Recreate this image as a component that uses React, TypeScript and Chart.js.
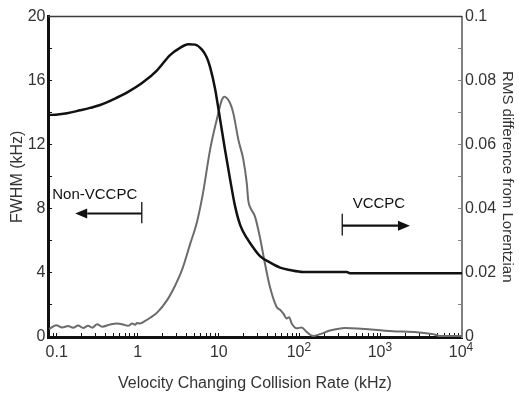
import React, { useEffect, useRef } from 'react';
import { Chart, registerables } from 'chart.js';

Chart.register(...registerables);

// ---- Data ----
// FWHM (left axis, kHz) vs velocity changing collision rate (kHz)
const FWHM_X = [0.0805, 0.097, 0.134, 0.194, 0.258, 0.343, 0.556, 0.759, 1.16, 1.73, 2.5, 3.32, 4.17, 5.09, 6.15, 7.1, 7.8, 8.98, 10.35, 11.9, 13.7, 15.8, 18.3, 22.3, 26.4, 32.2, 42.8, 56.9, 75.5, 109, 378, 415, 10000];
const FWHM_Y = [13.86, 13.88, 13.97, 14.15, 14.3, 14.48, 14.95, 15.3, 15.9, 16.65, 17.6, 18.05, 18.28, 18.25, 17.95, 17.45, 16.85, 15.5, 13.6, 11.7, 9.9, 8.2, 7.0, 6.15, 5.6, 5.05, 4.65, 4.33, 4.18, 4.06, 4.06, 3.98, 3.98];

// RMS difference from Lorentzian (right axis)
const RMS_X = [0.0805, 0.083, 0.0984, 0.117, 0.138, 0.159, 0.184, 0.212, 0.244, 0.274, 0.315, 0.363, 0.456, 0.556, 0.659, 0.759, 0.851, 0.927, 0.98, 1.07, 1.23, 1.42, 1.73, 2.3, 2.88, 3.52, 4.42, 5.38, 6.38, 7.8, 9.42, 10.9, 11.7, 13.7, 15.1, 17.4, 20.0, 22.1, 23.1, 24.9, 28.0, 32.2, 37.2, 42.8, 51.8, 56.9, 62.5, 68.7, 73.4, 79.3, 91.3, 105, 121, 146, 177, 235, 360, 1406, 2780, 4375, 5350, 10000];
const RMS_Y = [0.0025, 0.0027, 0.0037, 0.003, 0.0034, 0.0029, 0.0036, 0.0028, 0.0035, 0.0029, 0.004, 0.0032, 0.0039, 0.0042, 0.0039, 0.0035, 0.0042, 0.0038, 0.0044, 0.0042, 0.005, 0.006, 0.0076, 0.0115, 0.016, 0.021, 0.029, 0.036, 0.045, 0.0585, 0.0678, 0.074, 0.075, 0.0731, 0.0698, 0.0616, 0.0555, 0.048, 0.0425, 0.04, 0.0375, 0.031, 0.0227, 0.0155, 0.0093, 0.0085, 0.0073, 0.0058, 0.0062, 0.0042, 0.0027, 0.003, 0.0016, 0.0003, 0.0009, 0.002, 0.0028, 0.0018, 0.0015, 0.0009, 0.0003, 0.0003];

// Axis ranges and tick labels
const X_MIN = 0.078;
const X_MAX = 10000;
const X_DECADES = [0.01, 0.1, 1, 10, 100, 1000];
const X_MULTIPLIERS = [1, 2, 3, 4, 5, 6, 7, 8, 9];
const X_LABEL_VALUES = [0.1, 1, 10, 100, 1000, 10000];
const X_LABEL_BASE = ['0.1', '1', '10', '10', '10', '10'];
const X_LABEL_EXP = ['', '', '', '2', '3', '4'];
const Y_LEFT_MAX = 20;
const Y_RIGHT_MAX = 0.1;

// Annotations (data coordinates)
const ANNOT_TEXT = ['Non-VCCPC', 'VCCPC'];
const ANNOT_TEXT_X = [0.088, 448];
const ANNOT_TEXT_Y = [8.86, 8.33];
const ARROW_FROM_X = [1.12, 333];
const ARROW_TO_X = [0.169, 2280];
const ARROW_Y = [7.71, 6.95];
const BAR_Y_TOP = [8.43, 7.69];
const BAR_Y_BOTTOM = [7.1, 6.34];

const FONT = "'Liberation Sans', Arial, Helvetica, sans-serif";
const TEXT_COLOR = '#333';

const overlayPlugin = {
  id: 'overlay',
  afterDraw(chart: any) {
    const { ctx, chartArea, scales } = chart;
    const xs = scales.x;
    const ys = scales.y;
    ctx.save();
    // top frame line
    ctx.strokeStyle = '#3a3a3a';
    ctx.lineWidth = 1.5;
    ctx.beginPath();
    ctx.moveTo(chartArea.left, chartArea.top);
    ctx.lineTo(chartArea.right, chartArea.top);
    ctx.stroke();

    // x tick labels (with superscript exponents)
    ctx.fillStyle = TEXT_COLOR;
    ctx.textBaseline = 'alphabetic';
    X_LABEL_VALUES.forEach((v, i) => {
      const px = xs.getPixelForValue(v);
      const base = X_LABEL_BASE[i];
      const exp = X_LABEL_EXP[i];
      ctx.font = `16px ${FONT}`;
      const wb = ctx.measureText(base).width;
      if (!exp) {
        ctx.textAlign = 'center';
        ctx.fillText(base, px, 357);
      } else {
        ctx.font = `12px ${FONT}`;
        const we = ctx.measureText(exp).width;
        const start = px - (wb + we) / 2 - 1;
        ctx.textAlign = 'left';
        ctx.font = `16px ${FONT}`;
        ctx.fillText(base, start, 357);
        ctx.font = `12px ${FONT}`;
        ctx.fillText(exp, start + wb, 351);
      }
    });

    // annotations
    ctx.strokeStyle = '#111';
    ctx.fillStyle = '#111';
    ANNOT_TEXT.forEach((t, i) => {
      ctx.font = `15px ${FONT}`;
      ctx.textAlign = 'left';
      ctx.textBaseline = 'middle';
      ctx.fillText(t, xs.getPixelForValue(ANNOT_TEXT_X[i]), ys.getPixelForValue(ANNOT_TEXT_Y[i]));
      const x0 = xs.getPixelForValue(ARROW_FROM_X[i]);
      const x1 = xs.getPixelForValue(ARROW_TO_X[i]);
      const y = ys.getPixelForValue(ARROW_Y[i]);
      const dir = Math.sign(x1 - x0);
      const headLen = 12;
      const headHalf = 5;
      ctx.lineWidth = 2.2;
      ctx.beginPath();
      ctx.moveTo(x0, y);
      ctx.lineTo(x1 - dir * headLen, y);
      ctx.stroke();
      ctx.beginPath();
      ctx.moveTo(x1, y);
      ctx.lineTo(x1 - dir * headLen, y - headHalf);
      ctx.lineTo(x1 - dir * headLen, y + headHalf);
      ctx.closePath();
      ctx.fill();
      ctx.lineWidth = 1.3;
      ctx.beginPath();
      ctx.moveTo(x0, ys.getPixelForValue(BAR_Y_TOP[i]));
      ctx.lineTo(x0, ys.getPixelForValue(BAR_Y_BOTTOM[i]));
      ctx.stroke();
    });
    ctx.restore();
  },
};

export default function App() {
  const canvasRef = useRef<HTMLCanvasElement | null>(null);

  useEffect(() => {
    if (!canvasRef.current) return;
    Chart.defaults.font.family = FONT;
    const fwhm = FWHM_X.map((x, i) => ({ x, y: FWHM_Y[i] }));
    const rms = RMS_X.map((x, i) => ({ x, y: RMS_Y[i] }));
    const xTicks: number[] = [];
    X_DECADES.forEach((d) => X_MULTIPLIERS.forEach((m) => {
      const v = d * m;
      if (v >= X_MIN && v <= X_MAX) xTicks.push(v);
    }));
    xTicks.push(X_MAX);

    const chart = new Chart(canvasRef.current, {
      type: 'line',
      data: {
        datasets: [
          {
            label: 'FWHM',
            data: fwhm,
            yAxisID: 'y',
            borderColor: '#111',
            borderWidth: 2.5,
            pointRadius: 0,
            cubicInterpolationMode: 'monotone',
            fill: false,
          },
          {
            label: 'RMS',
            data: rms,
            yAxisID: 'y1',
            borderColor: '#6b6b6b',
            borderWidth: 2,
            pointRadius: 0,
            cubicInterpolationMode: 'monotone',
            fill: false,
          },
        ],
      },
      options: {
        responsive: false,
        animation: false,
        devicePixelRatio: 1,
        layout: { padding: { top: 13, left: 0, right: 0, bottom: 0 } },
        plugins: { legend: { display: false }, tooltip: { enabled: false } },
        scales: {
          x: {
            type: 'logarithmic',
            position: 'bottom',
            min: X_MIN,
            max: X_MAX,
            border: { color: '#111', width: 3 },
            grid: { drawOnChartArea: false, drawTicks: true, tickLength: -4, color: '#111', lineWidth: 1 },
            ticks: { display: false, autoSkip: false },
            afterBuildTicks: (scale: any) => {
              scale.ticks = xTicks.map((v) => ({ value: v }));
            },
            afterFit: (scale: any) => {
              scale.height = 62;
            },
            title: {
              display: true,
              text: 'Velocity Changing Collision Rate (kHz)',
              color: TEXT_COLOR,
              font: { size: 16 },
              padding: { top: 0, bottom: 6 },
            },
          },
          y: {
            type: 'linear',
            position: 'left',
            min: 0,
            max: Y_LEFT_MAX,
            border: { color: '#111', width: 3 },
            grid: { drawOnChartArea: false, drawTicks: true, tickLength: -4, color: '#111', lineWidth: 1 },
            ticks: {
              stepSize: 2,
              autoSkip: false,
              padding: 6.5,
              color: TEXT_COLOR,
              font: { size: 16 },
              callback: (v: any) => (Math.round(v) % 4 === 0 ? String(Math.round(v)) : ''),
            },
            afterFit: (scale: any) => {
              scale.width = 48;
            },
            title: {
              display: true,
              text: 'FWHM (kHz)',
              color: TEXT_COLOR,
              font: { size: 16 },
              padding: { top: 8, bottom: 0 },
            },
          },
          y1: {
            type: 'linear',
            position: 'right',
            min: 0,
            max: Y_RIGHT_MAX,
            border: { color: '#808080', width: 2 },
            grid: { drawOnChartArea: false, drawTicks: true, tickLength: -4, color: '#808080', lineWidth: 1 },
            ticks: {
              stepSize: 0.01,
              autoSkip: false,
              padding: 7,
              color: TEXT_COLOR,
              font: { size: 16 },
              callback: (v: any) => {
                const r = Math.round(v * 100);
                return r % 2 === 0 ? String(Number((r / 100).toFixed(2))) : '';
              },
            },
            afterFit: (scale: any) => {
              scale.width = 57;
            },
            title: {
              display: true,
              text: 'RMS difference from Lorentzian',
              color: TEXT_COLOR,
              font: { size: 15 },
              padding: { top: 3, bottom: 0 },
            },
          },
        },
      } as any,
      plugins: [overlayPlugin],
    });
    return () => chart.destroy();
  }, []);

  return (
    <div style={{ position: 'fixed', left: 0, top: 0, width: 519, height: 399, background: '#fff' }}>
      <canvas ref={canvasRef} width={519} height={399} style={{ display: 'block' }} />
    </div>
  );
}
